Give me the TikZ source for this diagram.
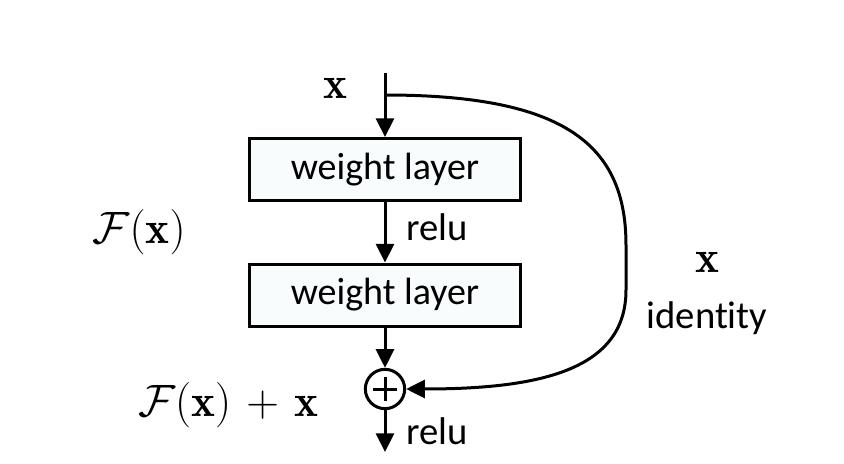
\RequirePackage{fix-cm}
\documentclass[tikz,border=0pt]{standalone}
\usepackage{fontspec}
\newfontfamily\calibri[Ligatures=NoCommon]{Carlito}
\usetikzlibrary{arrows.meta,calc}

\begin{document}
\begin{tikzpicture}[x=0.75pt,y=-0.75pt,line width=2.25pt,
    >={Triangle[length=14pt,width=13.5pt]},
    layer/.style={draw,fill=boxfill,minimum width=203pt,minimum height=46.5pt,
      inner sep=0pt,font=\calibri\fontsize{28.5}{34}\selectfont},
    word/.style={inner sep=0pt,font=\calibri\fontsize{29}{34}\selectfont},
    sym/.style={inner sep=0pt,font=\fontsize{34}{40}\selectfont}]
    \definecolor{boxfill}{HTML}{F8FCFC}
    \useasboundingbox (0,0) rectangle (844,464);
    \def\cx{385}
    \path (\cx,73) coordinate (top) (\cx,95) coordinate (split) (\cx,452) coordinate (out);
    \foreach \n/\y in {w1/169.5,w2/295} \node[layer] (\n) at (\cx,\y) {weight layer};
    \node[circle,draw,minimum size=29.5pt,inner sep=0pt] (plus) at (\cx,389) {};
    \draw ($(plus.center)+(-12,0)$) -- ($(plus.center)+(12,0)$)
          ($(plus.center)+(0,-12)$) -- ($(plus.center)+(0,12)$);
    \draw[->] (top) -- (w1);
    \draw[->] (w1) -- (w2);
    \draw[->] (w2) -- (plus);
    \draw[->] (plus) -- (out);
    \draw[->] (split) .. controls (565,95) and (626,145) .. (626,245)
      -- (626,290) .. controls (626,370) and (540,389) .. (plus.east);
    % labels
    \node[sym] (xin) at (335,88) {$\mathbf{x}$};
    \node[sym] (fx) at (139,232) {$\mathcal{F}(\mathbf{x})$};
    \node[sym] (fxx) at (228,405) {$\mathcal{F}(\mathbf{x})\mkern2mu+\mkern2mu\mathbf{x}$};
    \node[sym] (xid) at (707,262) {$\mathbf{x}$};
    \node[word] (ident) at (707,318) {identity};
    \node[word,anchor=west] (relu1) at (405,227) {relu};
    \node[word,anchor=west] (relu2) at (405,431) {relu};
\end{tikzpicture}
\end{document}
